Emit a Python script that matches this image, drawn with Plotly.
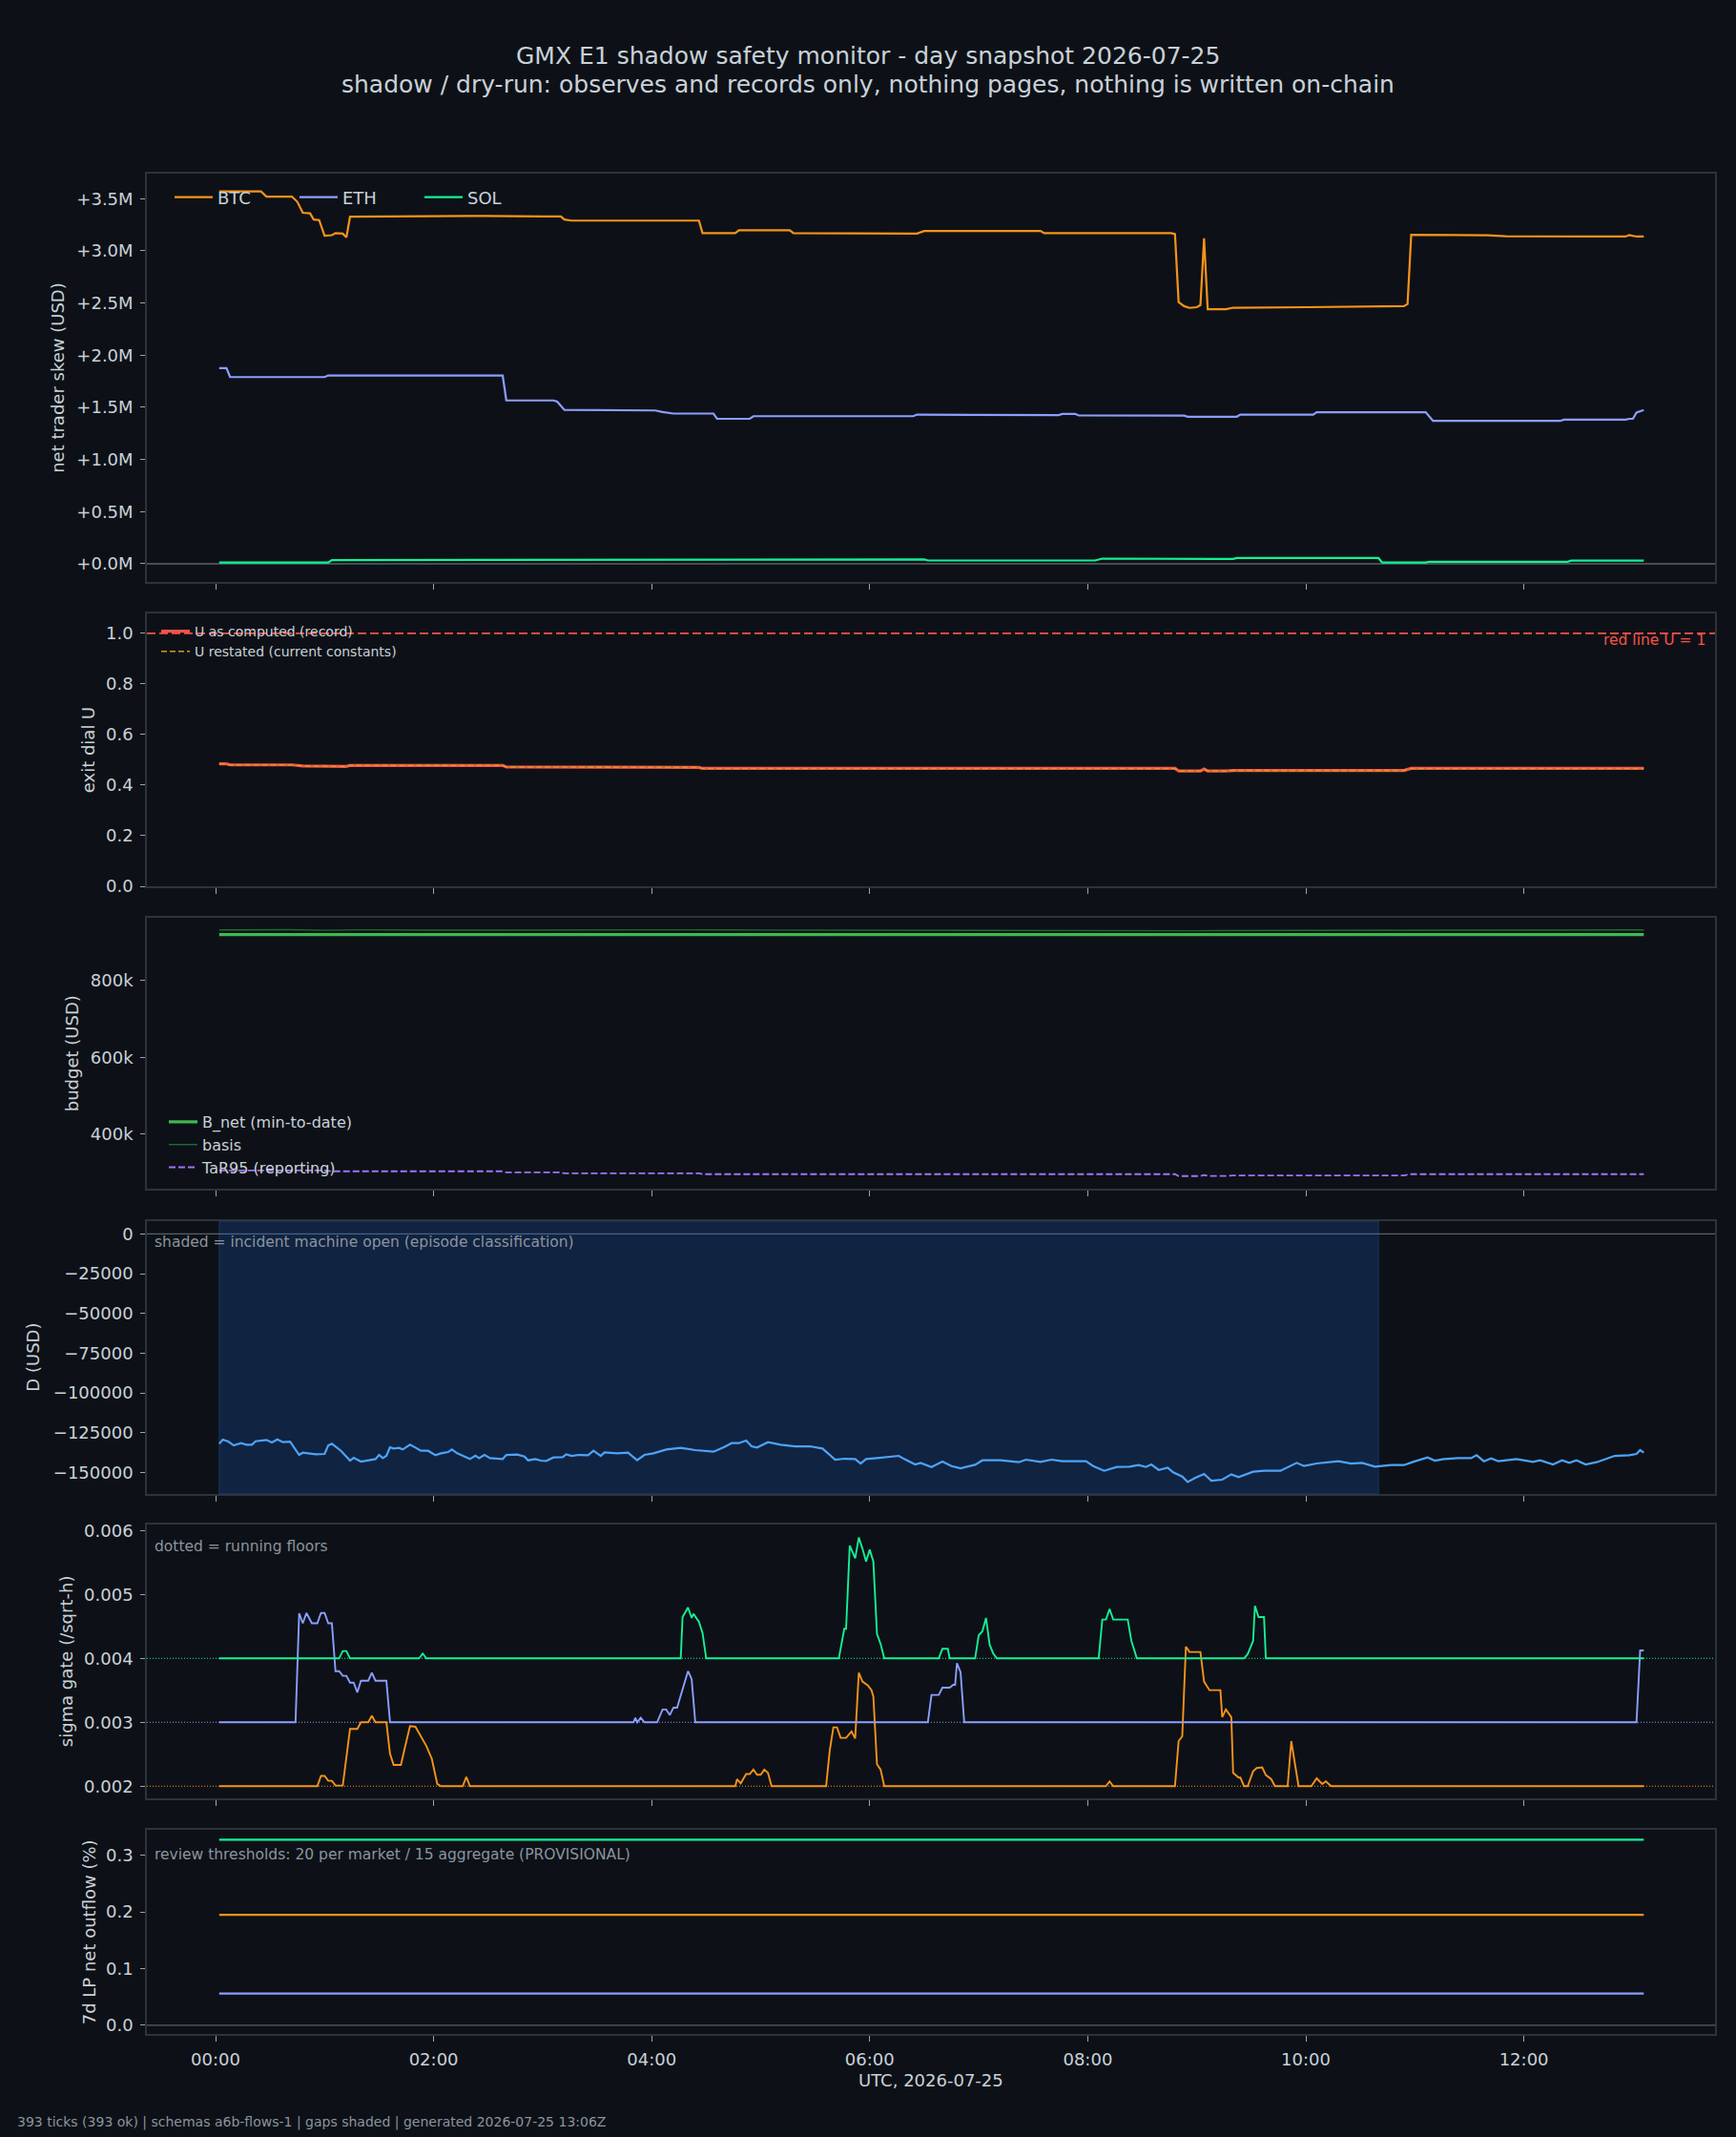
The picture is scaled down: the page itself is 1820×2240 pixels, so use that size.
import pandas as pd
import plotly.graph_objects as go

W, H = 1820, 2240
DAY = pd.Timestamp("2026-07-25")


def ts(mins):
    return [DAY + pd.Timedelta(minutes=float(m)) for m in mins]


# ---------------- data (time in minutes after 00:00 UTC) ----------------
# panel 1: net trader skew (millions USD)
btc_skew_t = [2, 25, 28, 42, 45, 48, 52, 54, 57, 60, 64, 66, 70, 72, 74, 100, 140, 180, 190, 192, 196, 230, 266,
              268, 286, 288, 316, 318, 386, 390, 454, 456, 526, 528, 530, 533, 536, 540, 542, 544, 546, 556, 560,
              600, 640, 654, 656, 658, 700, 710, 760, 776, 778, 782, 786]
btc_skew_m = [3.57, 3.57, 3.52, 3.52, 3.47, 3.365, 3.36, 3.30, 3.295, 3.145, 3.15, 3.17, 3.165, 3.13, 3.328, 3.33,
              3.335, 3.33, 3.33, 3.30, 3.29, 3.29, 3.29, 3.17, 3.17, 3.198, 3.198, 3.17, 3.165, 3.19, 3.19, 3.17,
              3.17, 3.16, 2.508, 2.47, 2.453, 2.46, 2.48, 3.12, 2.44, 2.44, 2.455, 2.46, 2.465, 2.47, 2.49, 3.154,
              3.15, 3.14, 3.137, 3.137, 3.152, 3.137, 3.137]
eth_skew_t = [2, 6, 8, 60, 62, 100, 158, 160, 186, 188, 192, 242, 246, 252, 274, 276, 294, 296, 384, 386, 440, 464,
              466, 473, 475, 533, 535, 562, 564, 604, 606, 666, 670, 740, 742, 776, 778, 780, 782, 786]
eth_skew_m = [1.875, 1.875, 1.79, 1.79, 1.805, 1.805, 1.805, 1.566, 1.566, 1.555, 1.475, 1.47, 1.455, 1.44, 1.44,
              1.39, 1.39, 1.415, 1.415, 1.43, 1.425, 1.425, 1.437, 1.437, 1.422, 1.42, 1.41, 1.41, 1.43, 1.43,
              1.453, 1.453, 1.37, 1.37, 1.382, 1.382, 1.39, 1.39, 1.45, 1.474]
sol_skew_t = [2, 62, 64, 300, 306, 390, 392, 484, 488, 534, 536, 560, 562, 640, 642, 666, 668, 744, 746, 786]
sol_skew_m = [0.012, 0.012, 0.035, 0.036, 0.042, 0.042, 0.032, 0.032, 0.05, 0.05, 0.047, 0.047, 0.055, 0.055,
              0.012, 0.012, 0.02, 0.02, 0.03, 0.03]

# panel 2: exit dial U
u_t = [2, 6, 8, 42, 48, 58, 72, 74, 158, 160, 190, 192, 266, 268, 528, 530, 542, 544, 546, 556, 560, 654, 658, 786]
u_record = [0.484, 0.484, 0.480, 0.480, 0.476, 0.474, 0.474, 0.478, 0.478, 0.472, 0.472, 0.470, 0.470, 0.466,
            0.466, 0.456, 0.456, 0.464, 0.456, 0.456, 0.458, 0.458, 0.466, 0.466]
u_restated = [0.484, 0.484, 0.480, 0.480, 0.476, 0.474, 0.474, 0.478, 0.478, 0.472, 0.472, 0.470, 0.470, 0.466,
              0.466, 0.456, 0.456, 0.464, 0.456, 0.456, 0.458, 0.458, 0.466, 0.466]
u_red_line = 1.0

# panel 3: budget (USD)
bnet_t = [2, 786]
bnet_v = [919500, 919500]
basis_t = [2, 40, 60, 80, 120, 160, 200, 260, 300, 360, 420, 480, 540, 600, 660, 720, 786]
basis_v = [931500, 932200, 930600, 931800, 930800, 931500, 931000, 932000, 931200, 930500, 931000, 930200, 929500,
           930200, 931000, 930600, 931500]
tar_t = [2, 60, 64, 158, 160, 190, 192, 266, 268, 528, 530, 542, 544, 546, 556, 560, 654, 658, 786]
tar_v = [305000, 305000, 303000, 303000, 300000, 300000, 297500, 297500, 295500, 295500, 290500, 290500, 293000,
         291000, 291000, 292000, 292000, 295500, 295500]

# panel 4: D (USD, thousands)
d_t = [2, 4, 7, 10, 14, 17, 20, 22, 28, 31, 34, 37, 41, 46, 48, 51, 55, 60, 62, 64, 69, 74, 76, 80, 88, 90, 92, 94,
       96, 98, 101, 103, 107, 110, 113, 117, 121, 124, 128, 130, 133, 137, 140, 143, 145, 148, 151, 158, 160, 166,
       170, 172, 176, 179, 182, 186, 191, 193, 196, 200, 205, 208, 212, 214, 221, 227, 232, 236, 241, 248, 256,
       264, 274, 280, 284, 288, 292, 295, 298, 304, 311, 319, 327, 334, 341, 346, 352, 355, 358, 364, 370, 376,
       379, 385, 388, 394, 400, 405, 410, 418, 422, 432, 442, 446, 454, 460, 466, 479, 483, 489, 496, 503, 508,
       512, 515, 519, 524, 527, 532, 535, 539, 544, 548, 554, 559, 563, 571, 577, 586, 595, 599, 606, 618, 625,
       631, 638, 647, 654, 659, 667, 671, 676, 684, 691, 694, 698, 702, 706, 716, 725, 729, 736, 741, 745, 749,
       754, 760, 766, 770, 778, 782, 784, 786]
d_k = [-132.0, -129.4, -130.6, -133.0, -131.6, -132.6, -132.6, -130.4, -129.6, -131.2, -129.2, -131.0, -130.6,
       -139.0, -137.6, -138.0, -138.6, -138.4, -133.0, -132.0, -136.4, -142.6, -140.8, -143.2, -141.6, -139.0,
       -141.0, -139.6, -134.2, -135.0, -134.6, -135.6, -132.6, -134.4, -136.4, -136.4, -139.2, -138.0, -137.2,
       -135.6, -138.0, -140.0, -141.6, -139.4, -141.0, -139.0, -141.0, -141.6, -139.0, -138.8, -140.0, -142.4,
       -141.6, -142.6, -142.8, -140.6, -140.4, -138.6, -139.6, -139.0, -139.2, -136.4, -139.6, -137.4, -138.0,
       -137.6, -142.4, -139.0, -138.0, -135.6, -134.6, -136.0, -137.0, -134.0, -131.6, -131.6, -130.0, -133.6,
       -134.4, -131.0, -132.6, -133.6, -133.6, -135.0, -142.0, -141.4, -141.6, -144.4, -141.6, -141.0, -140.4,
       -139.6, -141.6, -145.0, -144.0, -146.6, -143.2, -146.0, -147.4, -145.2, -142.4, -142.4, -143.6, -142.0,
       -143.4, -142.0, -143.0, -143.0, -146.0, -149.0, -146.6, -146.4, -145.4, -146.6, -145.0, -148.4, -147.0,
       -150.0, -152.6, -156.0, -153.6, -151.0, -155.2, -154.6, -151.2, -153.0, -149.6, -149.0, -149.0, -144.0,
       -146.0, -144.4, -143.0, -144.4, -144.0, -146.4, -145.4, -145.4, -143.4, -140.6, -142.6, -141.6, -141.0,
       -141.0, -139.2, -143.0, -141.2, -143.0, -141.6, -143.4, -142.4, -145.0, -142.4, -144.0, -142.4, -145.0,
       -143.6, -141.0, -139.6, -139.2, -138.4, -136.0, -137.6]
incident_open = [2, 640]  # minutes: incident machine open window

# panel 5: sigma gate (/sqrt-h)
sig_eth_t = [2, 44, 46, 48, 50, 53, 56, 58, 60, 62, 64, 66, 68, 70, 72, 74, 76, 78, 80, 84, 86, 88, 94, 96, 230,
             231, 232, 234, 236, 243, 246, 248, 250, 252, 254, 257, 260, 262, 264, 392, 394, 398, 400, 404, 406,
             407, 408, 410, 412, 782, 784, 786]
sig_eth_v = [0.003, 0.003, 0.004706, 0.00455, 0.00471, 0.00455, 0.00455, 0.00471, 0.00471, 0.00455, 0.00455,
             0.0038, 0.0038, 0.003726, 0.003726, 0.00362, 0.00362, 0.003468, 0.00365, 0.00365, 0.003776, 0.00365,
             0.00365, 0.003, 0.003, 0.00307, 0.003, 0.00307, 0.003, 0.003, 0.0032, 0.0032, 0.003114, 0.003229,
             0.003229, 0.0035, 0.0038, 0.003677, 0.003, 0.003, 0.003428, 0.003428, 0.003542, 0.003542, 0.003587,
             0.003587, 0.003925, 0.003786, 0.003, 0.003, 0.004124, 0.004124]
sig_btc_t = [2, 56, 58, 60, 62, 64, 66, 70, 74, 78, 80, 84, 86, 88, 94, 96, 98, 102, 104, 107, 110, 114, 116, 119,
             122, 124, 136, 138, 140, 286, 287, 289, 292, 294, 296, 298, 300, 302, 304, 306, 336, 338, 340, 342,
             344, 347, 350, 352, 354, 356, 359, 361, 362, 364, 366, 368, 490, 492, 494, 528, 530, 532, 534, 536,
             542, 544, 547, 553, 554, 556, 559, 560, 563, 564, 566, 568, 571, 573, 576, 578, 581, 583, 590, 592,
             595, 596, 603, 606, 609, 611, 614, 786]
sig_btc_v = [0.002, 0.002, 0.00216, 0.00216, 0.002085, 0.002085, 0.00201, 0.00201, 0.002896, 0.002896, 0.003,
             0.003, 0.0031, 0.003, 0.003, 0.002507, 0.002333, 0.002333, 0.002582, 0.00294, 0.00293, 0.00273,
             0.00263, 0.00243, 0.002035, 0.002, 0.002, 0.002144, 0.002, 0.002, 0.00211, 0.002045, 0.00219,
             0.00219, 0.00226, 0.00218, 0.00218, 0.00226, 0.00221, 0.002, 0.002, 0.002557, 0.00292, 0.00292,
             0.002756, 0.002756, 0.002856, 0.002746, 0.003776, 0.003637, 0.003577, 0.003502, 0.003403, 0.002343,
             0.002259, 0.002, 0.002, 0.002075, 0.002, 0.002, 0.002706, 0.002781, 0.004184, 0.0041, 0.0041,
             0.003637, 0.003502, 0.003502, 0.00308, 0.0032, 0.00308, 0.002209, 0.002134, 0.002134, 0.002, 0.002,
             0.002234, 0.002284, 0.002294, 0.002174, 0.002109, 0.002, 0.002, 0.002706, 0.002144, 0.002, 0.002,
             0.002124, 0.002035, 0.002075, 0.002, 0.002]
sig_sol_t = [2, 68, 70, 72, 74, 112, 114, 116, 256, 257, 260, 262, 263, 266, 268, 270, 343, 346, 347, 349, 352,
             354, 356, 358, 360, 362, 364, 366, 368, 398, 400, 403, 404, 418, 420, 422, 424, 426, 428, 430, 486,
             488, 490, 492, 494, 502, 504, 507, 566, 568, 571, 572, 574, 577, 578, 786]
sig_sol_v = [0.004, 0.004, 0.004114, 0.004114, 0.004, 0.004, 0.004075, 0.004, 0.004, 0.004647, 0.004796,
             0.004632, 0.004697, 0.004572, 0.004398, 0.004, 0.004, 0.004463, 0.004463, 0.005766, 0.005567,
             0.005891, 0.005716, 0.005517, 0.005701, 0.005517, 0.004383, 0.004224, 0.004, 0.004, 0.004149,
             0.004149, 0.004, 0.004, 0.004363, 0.004423, 0.004632, 0.004214, 0.004075, 0.004, 0.004, 0.004607,
             0.004607, 0.004771, 0.004607, 0.004607, 0.004274, 0.004, 0.004, 0.004065, 0.004274, 0.004821,
             0.004647, 0.004647, 0.004, 0.004]
sigma_floors = {"BTC": 0.002, "ETH": 0.003, "SOL": 0.004}

# panel 6: 7d LP net outflow (%)
lp_t = [2, 786]
lp_btc = [0.195, 0.195]
lp_eth = [0.056, 0.056]
lp_sol = [0.3275, 0.3275]

# tick labels
skew_ticks = [0, 0.5, 1.0, 1.5, 2.0, 2.5, 3.0, 3.5]
skew_ticktext = ["+0.0M", "+0.5M", "+1.0M", "+1.5M", "+2.0M", "+2.5M", "+3.0M", "+3.5M"]
u_ticks = [0, 0.2, 0.4, 0.6, 0.8, 1.0]
u_ticktext = ["0.0", "0.2", "0.4", "0.6", "0.8", "1.0"]
budget_ticks = [400000, 600000, 800000]
budget_ticktext = ["400k", "600k", "800k"]
d_ticks = [0, -25000, -50000, -75000, -100000, -125000, -150000]
d_ticktext = ["0", "\u221225000", "\u221250000", "\u221275000", "\u2212100000", "\u2212125000", "\u2212150000"]
sigma_ticks = [0.002, 0.003, 0.004, 0.005, 0.006]
sigma_ticktext = ["0.002", "0.003", "0.004", "0.005", "0.006"]
lp_ticks = [0.0, 0.1, 0.2, 0.3]
lp_ticktext = ["0.0", "0.1", "0.2", "0.3"]

# ---------------- style ----------------
BG = "#0d1117"
SPINE = "#2d333b"
TXT = "#c9d1d9"
MUTED = "#8b949e"
TICKC = "#9da5b0"
ZEROC = "#59616b"
C_BTC = "#f7931a"
C_ETH = "#8c9eff"
C_SOL = "#14f195"
C_D = "#4ea3f8"
C_RED = "#f85149"
C_GOLD = "#d29922"
C_BNET = "#3fb950"
C_BASIS = "#1f6b33"
C_TAR = "#a371f7"
FONT = "DejaVu Sans"

XL, XR = 154 / W, 1798 / W
panels_px = [(181.7, 610), (642.7, 929), (961.7, 1246), (1280, 1565.7), (1598.3, 1885), (1918.3, 2131.7)]
yranges = [[-0.174, 3.743], [0, 1.08], [257600, 964000], [-163400, 8000], [0.00181, 0.00609], [-0.0148, 0.3445]]
x_range = [DAY - pd.Timedelta(minutes=37.8), DAY + pd.Timedelta(minutes=825.2)]

fig = go.Figure()


def sfx(i):
    return "" if i == 0 else str(i + 1)


def add_line(i, t, v, color, width, name=None, legend=None, dash=None, scale=1.0):
    fig.add_trace(go.Scatter(
        x=ts(t), y=[val * scale for val in v], mode="lines", name=name,
        line=dict(color=color, width=width, dash=dash),
        xaxis="x" + sfx(i), yaxis="y" + sfx(i),
        showlegend=legend is not None, legend=legend if legend else "legend",
        hoverinfo="skip",
    ))


# panel 1
add_line(0, btc_skew_t, btc_skew_m, C_BTC, 2.2, "BTC", "legend")
add_line(0, eth_skew_t, eth_skew_m, C_ETH, 2.2, "ETH", "legend")
add_line(0, sol_skew_t, sol_skew_m, C_SOL, 2.2, "SOL", "legend")
# panel 2
add_line(1, u_t, u_record, C_RED, 3.2, "U as computed (record)", "legend2")
add_line(1, u_t, u_restated, C_GOLD, 1.6, "U restated (current constants)", "legend2", dash="6px,3px")
# panel 3
add_line(2, bnet_t, bnet_v, C_BNET, 3.2, "B_net (min-to-date)", "legend3")
add_line(2, basis_t, basis_v, C_BASIS, 1.4, "basis", "legend3")
add_line(2, tar_t, tar_v, C_TAR, 1.8, "TaR95 (reporting)", "legend3", dash="7px,3px")
# panel 4
add_line(3, d_t, d_k, C_D, 2.2, scale=1000.0)
# panel 5
add_line(4, sig_btc_t, sig_btc_v, C_BTC, 1.9)
add_line(4, sig_eth_t, sig_eth_v, C_ETH, 1.9)
add_line(4, sig_sol_t, sig_sol_v, C_SOL, 1.9)
# panel 6
add_line(5, lp_t, lp_sol, C_SOL, 2.4)
add_line(5, lp_t, lp_btc, C_BTC, 2.4)
add_line(5, lp_t, lp_eth, C_ETH, 2.4)

shapes = []


def hline(i, y, color, width, dash=None, layer="below"):
    shapes.append(dict(type="line", xref="x" + sfx(i) + " domain", x0=0, x1=1, yref="y" + sfx(i), y0=y, y1=y,
                       line=dict(color=color, width=width, dash=dash), layer=layer))


hline(0, 0, ZEROC, 1.4)
hline(1, u_red_line, C_RED, 1.8, dash="9px,4px", layer="above")
hline(3, 0, ZEROC, 1.4)
hline(4, sigma_floors["SOL"], C_SOL, 1.1, dash="1px,2px")
hline(4, sigma_floors["ETH"], C_ETH, 1.1, dash="1px,2px")
hline(4, sigma_floors["BTC"], C_BTC, 1.1, dash="1px,2px")
hline(5, 0, ZEROC, 1.4)
inc = ts(incident_open)
shapes.append(dict(type="rect", xref="x4", x0=inc[0], x1=inc[1], yref="y4 domain", y0=0, y1=1,
                   fillcolor="rgba(31,111,235,0.20)", line=dict(color="rgba(56,139,253,0.25)", width=1),
                   layer="below"))

layout = dict(
    width=W, height=H, margin=dict(l=0, r=0, t=0, b=0),
    paper_bgcolor=BG, plot_bgcolor=BG, template="none",
    font=dict(family=FONT, color=TXT, size=18),
    shapes=shapes, showlegend=True,
)

tickcfg = [
    dict(tickvals=skew_ticks, ticktext=skew_ticktext),
    dict(tickvals=u_ticks, ticktext=u_ticktext),
    dict(tickvals=budget_ticks, ticktext=budget_ticktext),
    dict(tickvals=d_ticks, ticktext=d_ticktext),
    dict(tickvals=sigma_ticks, ticktext=sigma_ticktext),
    dict(tickvals=lp_ticks, ticktext=lp_ticktext),
]

for i in range(6):
    top, bot = panels_px[i]
    xa = dict(domain=[XL, XR], anchor="y" + sfx(i), type="date", range=x_range,
              tickformat="%H:%M", dtick=7200000, tick0=DAY, ticks="outside", ticklen=6, tickwidth=1.2,
              tickcolor=TICKC, showticklabels=(i == 5), showline=True, linecolor=SPINE, linewidth=1.6,
              mirror=True, showgrid=False, zeroline=False, tickfont=dict(size=18, color=TXT),
              automargin=False, ticklabelstandoff=4)
    if i > 0:
        xa["matches"] = "x"
    layout["xaxis" + sfx(i)] = xa
    ya = dict(domain=[1 - bot / H, 1 - top / H], anchor="x" + sfx(i), range=yranges[i], ticks="outside",
              tickmode="array", ticklen=5, tickwidth=1.2, tickcolor=TICKC, showline=True, linecolor=SPINE,
              linewidth=1.6, mirror=True, showgrid=False, zeroline=False, tickfont=dict(size=18, color=TXT),
              automargin=False, ticklabelstandoff=4)
    ya.update(tickcfg[i])
    layout["yaxis" + sfx(i)] = ya

layout["legend"] = dict(orientation="h", x=178 / W, y=1 - 207 / H, xanchor="left", yanchor="middle",
                        font=dict(size=18, color=TXT), bgcolor="rgba(0,0,0,0)", entrywidth=76,
                        entrywidthmode="pixels", itemwidth=40)
layout["legend2"] = dict(orientation="v", x=164 / W, y=1 - 646 / H, xanchor="left", yanchor="top",
                         font=dict(size=14, color=TXT), bgcolor="rgba(0,0,0,0)", itemwidth=30)
layout["legend3"] = dict(orientation="v", x=172 / W, y=1 - 1159 / H, xanchor="left", yanchor="top",
                         font=dict(size=16, color=TXT), bgcolor="rgba(0,0,0,0)", itemwidth=30)

ann = []


def txt(x, y, s, size, color=TXT, xanchor="center", yanchor="middle", angle=0, xref="paper", yref="paper",
        yshift=0):
    ann.append(dict(x=x, y=y, xref=xref, yref=yref, text=s, showarrow=False, xanchor=xanchor,
                    yanchor=yanchor, textangle=angle, yshift=yshift,
                    font=dict(size=size, color=color, family=FONT)))


txt(0.5, 1 - 58.6 / H, "GMX E1 shadow safety monitor - day snapshot 2026-07-25", 25)
txt(0.5, 1 - 88.6 / H, "shadow / dry-run: observes and records only, nothing pages, nothing is written on-chain", 25)

ytitles = ["net trader skew (USD)", "exit dial U", "budget (USD)", "D (USD)", "sigma gate (/sqrt-h)",
           "7d LP net outflow (%)"]
ytitle_x = [61, 92.4, 75.4, 34.8, 69.6, 93.3]
for i in range(6):
    top, bot = panels_px[i]
    txt(ytitle_x[i] / W, 1 - (top + bot) / 2 / H, ytitles[i], 18, angle=-90)

txt(976 / W, 1 - 2180 / H, "UTC, 2026-07-25", 18)
txt(16 / W, 1 - 2224 / H, "393 ticks (393 ok) | schemas a6b-flows-1 | gaps shaded | generated 2026-07-25 13:06Z",
    14, color=MUTED, xanchor="left")

txt(0.995, u_red_line, "red line U = 1", 15.5, color=C_RED, xanchor="right", yanchor="top",
    xref="x2 domain", yref="y2", yshift=4)
NOTE_X = 0.0037
txt(NOTE_X, (1565.7 - 1302) / 285.7, "shaded = incident machine open (episode classification)", 15.5,
    color=MUTED, xanchor="left", xref="x4 domain", yref="y4 domain")
txt(NOTE_X, (1885 - 1621.4) / 286.7, "dotted = running floors", 15.5, color=MUTED, xanchor="left",
    xref="x5 domain", yref="y5 domain")
txt(NOTE_X, (2131.7 - 1944) / 213.4, "review thresholds: 20 per market / 15 aggregate (PROVISIONAL)", 15.5,
    color=MUTED, xanchor="left", xref="x6 domain", yref="y6 domain")

layout["annotations"] = ann
fig.update_layout(**layout)
fig.write_html("out.html")
